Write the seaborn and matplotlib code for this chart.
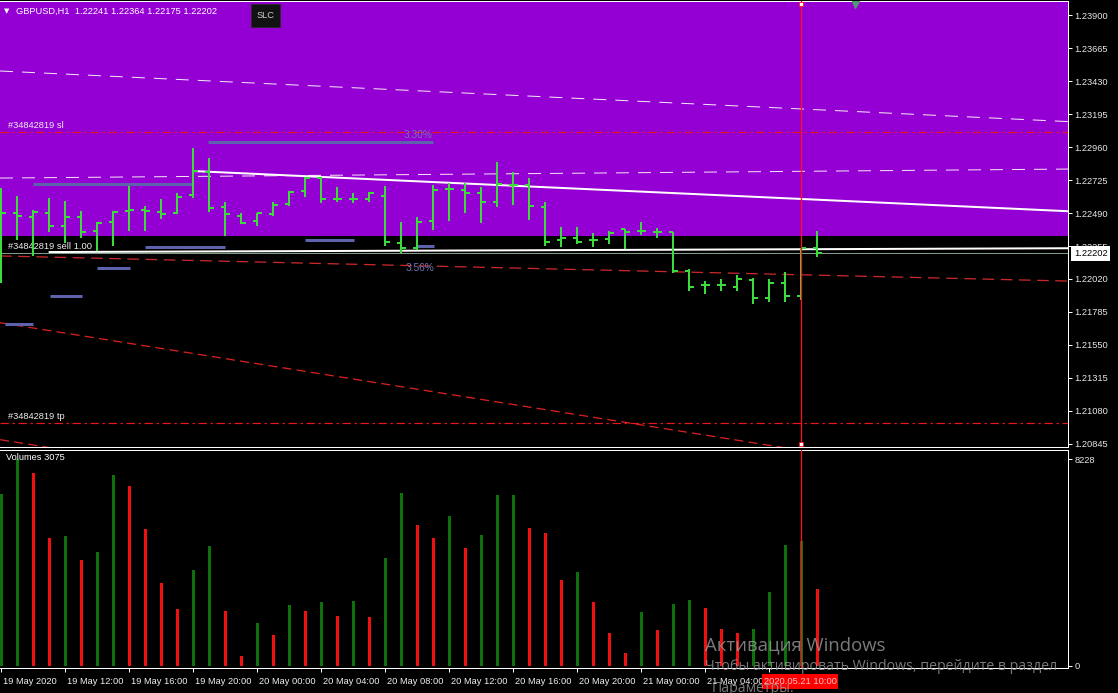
import numpy as np
import pandas as pd
import matplotlib
matplotlib.use('Agg')
import matplotlib.pyplot as plt
import seaborn as sns
from matplotlib.patches import Rectangle

# ==========================================
# Data (bar 0 = 19 May 08:00)
# ==========================================
bar_open = [1.22490, 1.22490, 1.22462, 1.22490, 1.22398, 1.22462, 1.22362, 1.22426, 1.22504, 1.22511,
            1.22497, 1.22490, 1.22618, 1.22782, 1.22533, 1.22469, 1.22433, 1.22483, 1.22554, 1.22647,
            1.22739, 1.22590, 1.22590, 1.22590, 1.22611, 1.22276, 1.22241, 1.22433, 1.22661, 1.22654,
            1.22632, 1.22568, 1.22689, 1.22689, 1.22533, 1.22298, 1.22312, 1.22298, 1.22305, 1.22376,
            1.22362, 1.22355, 1.22355, 1.22077, 1.21977, 1.21977, 1.21963, 1.22013, 1.21885, 1.21992,
            1.21899, 1.22241]
bar_high = [1.22668, 1.22611, 1.22511, 1.22597, 1.22576, 1.22504, 1.22426, 1.22504, 1.22682, 1.22540,
            1.22590, 1.22632, 1.22953, 1.22882, 1.22568, 1.22490, 1.22490, 1.22568, 1.22647, 1.22746,
            1.22746, 1.22675, 1.22632, 1.22640, 1.22682, 1.22426, 1.22462, 1.22689, 1.22704, 1.22704,
            1.22675, 1.22853, 1.22782, 1.22739, 1.22568, 1.22390, 1.22390, 1.22348, 1.22362, 1.22376,
            1.22426, 1.22383, 1.22355, 1.22091, 1.22006, 1.22020, 1.22049, 1.22027, 1.22020, 1.22070,
            1.22241, 1.22364]
bar_low = [1.21992, 1.22298, 1.22184, 1.22355, 1.22276, 1.22312, 1.22219, 1.22255, 1.22362, 1.22362,
           1.22447, 1.22483, 1.22597, 1.22497, 1.22326, 1.22412, 1.22398, 1.22469, 1.22540, 1.22604,
           1.22561, 1.22568, 1.22561, 1.22568, 1.22255, 1.22205, 1.22227, 1.22369, 1.22433, 1.22490,
           1.22419, 1.22533, 1.22547, 1.22440, 1.22255, 1.22248, 1.22269, 1.22248, 1.22269, 1.22234,
           1.22333, 1.22312, 1.22063, 1.21935, 1.21913, 1.21935, 1.21935, 1.21842, 1.21856, 1.21856,
           1.21871, 1.22175]
bar_close = [1.22490, 1.22469, 1.22497, 1.22398, 1.22462, 1.22355, 1.22419, 1.22497, 1.22511, 1.22504,
             1.22483, 1.22604, 1.22789, 1.22526, 1.22483, 1.22419, 1.22490, 1.22547, 1.22640, 1.22739,
             1.22590, 1.22590, 1.22590, 1.22632, 1.22284, 1.22241, 1.22426, 1.22654, 1.22661, 1.22632,
             1.22568, 1.22697, 1.22689, 1.22540, 1.22284, 1.22312, 1.22284, 1.22298, 1.22348, 1.22355,
             1.22362, 1.22355, 1.22077, 1.21963, 1.21977, 1.21977, 1.22020, 1.21885, 1.21992, 1.21899,
             1.22241, 1.22202]

volumes = [6856, 8228, 7679, 5093, 5185, 4205, 4545, 7601, 7183, 5459,
           3291, 2272, 3840, 4793, 2194, 392, 1724, 1254, 2442, 2194,
           2547, 1998, 2599, 1959, 4310, 6896, 5616, 5107, 5995, 4715,
           5211, 6817, 6830, 5485, 5289, 3409, 3761, 2547, 1332, 509,
           2155, 1450, 2468, 2625, 2312, 1489, 1332, 1489, 2939, 4819,
           4976, 3075]
vol_dir = ['up', 'up', 'down', 'down', 'up', 'down', 'up', 'up', 'down', 'down',
           'down', 'down', 'up', 'up', 'down', 'down', 'up', 'down', 'up', 'down',
           'up', 'down', 'up', 'down', 'up', 'up', 'down', 'down', 'up', 'down',
           'up', 'up', 'up', 'down', 'down', 'down', 'up', 'down', 'down', 'down',
           'up', 'down', 'up', 'up', 'down', 'down', 'down', 'up', 'up', 'up',
           'up', 'down']

time_label_bars = [0, 4, 8, 12, 16, 20, 24, 28, 32, 36, 40, 44, 48]
time_labels = ['19 May 2020', '19 May 12:00', '19 May 16:00', '19 May 20:00', '20 May 00:00',
               '20 May 04:00', '20 May 08:00', '20 May 12:00', '20 May 16:00', '20 May 20:00',
               '21 May 00:00', '21 May 04:00', '21 May 08:00']
price_ticks = [1.23900, 1.23665, 1.23430, 1.23195, 1.22960, 1.22725, 1.22490,
               1.22255, 1.22020, 1.21785, 1.21550, 1.21315, 1.21080, 1.20845]
vol_ticks = [8228, 0]

# objects on the chart
purple_zone = (1.22326, 1.24200)
sl_price = 1.23067
tp_price = 1.20995
order_no = '#34842819'
# trend lines: two anchor points (bar, price)
white_dash_1 = [(0, 1.23501), (50, 1.23231)]
white_dash_2 = [(0, 1.22739), (50, 1.22787)]
white_trend = [(12, 1.22789), (50, 1.22590)]
sell_line = [(3, 1.22212), (50, 1.22232)]
red_chan_1 = [(0, 1.22184), (50, 1.22050)]
red_chan_2 = [(0, 1.21707), (50, 1.20799)]
red_chan_3 = [(0, 1.20874), (50, 1.19966)]
# short blue levels
seg_start = [0.22, 3.04, 5.98, 8.97, 18.98, 25.97, 1.98, 12.91]
seg_end = [1.98, 5.04, 8.04, 13.98, 22.03, 27.04, 11.97, 26.97]
seg_price = [1.21700, 1.21900, 1.22099, 1.22248, 1.22298, 1.22255, 1.22697, 1.22996]
pct_labels = [(26.97, 1.23045, '3.30%'), (27.04, 1.22098, '3.56%')]
crosshair_bar = 50
crosshair_time = '2020.05.21 10:00'
arrow_mark = (53.35, 1.23985)

# ==========================================
# Figure setup
# ==========================================
sns.set_theme(style='dark', rc={'axes.facecolor': 'black', 'figure.facecolor': 'black',
                                'axes.grid': False, 'text.color': 'white'})
plt.rcParams['font.family'] = ['Liberation Sans', 'DejaVu Sans']

W, H = 1118, 693
FS = 6.7
PX = 0.72  # one pixel in points at dpi 100


def fx(x):
    return x / W


def fy(y):
    return 1 - y / H


fig = plt.figure(figsize=(W / 100, H / 100), dpi=100, facecolor='black')
axm = fig.add_axes([0, fy(446.5), fx(1068), fy(1) - fy(446.5)])
axv = fig.add_axes([0, fy(668), fx(1068), fy(449.5) - fy(668)])

bars = np.arange(len(bar_open))
xlim = (-0.0875, 66.6625)

# ---- price window ----
axm.axhspan(*purple_zone, color='#9400d3', lw=0, zorder=0)


def line_through(ax, pts, x0, x1, **kw):
    (xa, ya), (xb, yb) = pts
    slope = (yb - ya) / (xb - xa)
    xs = np.array([x0, x1])
    ax.plot(xs, ya + (xs - xa) * slope, **kw)


line_through(axm, white_dash_1, xlim[0], xlim[1], color='#f4eaf4', lw=PX, ls=(0, (13, 9)), zorder=2)
line_through(axm, white_dash_2, xlim[0], xlim[1], color='#f4e4f4', lw=PX, ls=(0, (13, 9)), zorder=2)
line_through(axm, white_trend, white_trend[0][0], xlim[1], color='white', lw=2 * PX, zorder=2)
line_through(axm, sell_line, sell_line[0][0], xlim[1], color='white', lw=2 * PX, zorder=2)
line_through(axm, red_chan_1, xlim[0], xlim[1], color='#c8282a', lw=1.3 * PX, ls=(0, (9, 5)), zorder=2)
line_through(axm, red_chan_2, xlim[0], xlim[1], color='#d82020', lw=1.3 * PX, ls=(0, (7, 4)), zorder=2)
line_through(axm, red_chan_3, xlim[0], xlim[1], color='#d82020', lw=1.3 * PX, ls=(0, (7, 4)), zorder=2)

axm.axhline(sl_price, color='#e81818', lw=1.2 * PX, ls=(0, (7, 3, 2, 3)), zorder=2)
axm.axhline(tp_price, color='#e81818', lw=1.2 * PX, ls=(0, (7, 3, 2, 3)), zorder=2)
axm.axhline(bar_close[-1], color='#7f9c86', lw=PX, zorder=2)

axm.hlines(seg_price, seg_start, seg_end, color='#5c62ac', lw=3 * PX, zorder=3)
for xb, yp, txt in pct_labels:
    axm.text(xb, yp, txt, color='#7276b4', fontsize=FS + 0.6, ha='right', va='center', zorder=3)

# OHLC bars
bar_col = '#3ddc3d'
axm.vlines(bars, bar_low, bar_high, color=bar_col, lw=2 * PX, zorder=4)
axm.hlines(bar_open, bars - 0.3, bars, color=bar_col, lw=2 * PX, zorder=4)
axm.hlines(bar_close, bars, bars + 0.3, color=bar_col, lw=2 * PX, zorder=4)

# labels of the order lines
lab_x = 0.41
axm.annotate(order_no + ' sl', (lab_x, sl_price), xytext=(0, 2), textcoords='offset pixels',
             color='#eeeeee', fontsize=FS, va='bottom')
axm.annotate(order_no + ' tp', (lab_x, tp_price), xytext=(0, 2), textcoords='offset pixels',
             color='#eeeeee', fontsize=FS, va='bottom')
axm.annotate(order_no + ' sell 1.00', (lab_x, sell_line[0][1]), xytext=(0, 1), textcoords='offset pixels',
             color='#eeeeee', fontsize=FS, va='bottom')

# crosshair and arrow
axm.axvline(crosshair_bar, color='#ff1020', lw=1.3 * PX, zorder=6)
axm.plot([crosshair_bar, crosshair_bar], [0.9933, 0.0056], transform=axm.get_xaxis_transform(),
         ls='none', marker='s', ms=4 * PX, mfc='white', mec='#ff1020', mew=0.6, zorder=7)
axm.plot(*arrow_mark, marker='v', ms=9 * PX, color='#4f9a72', ls='none', zorder=5)

axm.set_xlim(*xlim)
axm.set_ylim(1.20827, 1.24000)
axm.yaxis.tick_right()
axm.set_yticks(price_ticks)
axm.set_yticklabels([f'{t:.5f}' for t in price_ticks])
axm.tick_params(axis='y', right=True, left=False, length=3, width=PX, color='white',
                labelcolor='#e6e6e6', labelsize=FS, pad=1.5)
axm.tick_params(axis='x', bottom=False, labelbottom=False)

axm.annotate(f'{bar_close[-1]:.5f}', (1, bar_close[-1]), xycoords=('axes fraction', 'data'),
             xytext=(6, 0), textcoords='offset pixels', color='black', fontsize=FS, va='center',
             bbox=dict(boxstyle='square,pad=0.3', fc='white', ec='none'), annotation_clip=False, zorder=8)

# ---- volume window ----
vol_df = pd.DataFrame({'bar': bars, 'volume': volumes, 'dir': vol_dir})
sns.barplot(data=vol_df, x='bar', y='volume', hue='dir', palette={'up': '#0c720c', 'down': '#f01010'},
            native_scale=True, dodge=False, width=0.2, saturation=1, errorbar=None,
            legend=False, ax=axv, zorder=3, edgecolor='none', linewidth=0)
axv.axvline(crosshair_bar, color='#ff1020', lw=1.3 * PX, zorder=6)
axv.set_xlim(*xlim)
axv.set_ylim(-80, 8626)
axv.set_xlabel('')
axv.set_ylabel('')
axv.yaxis.tick_right()
axv.set_yticks(vol_ticks)
axv.set_yticklabels([str(v) for v in vol_ticks])
axv.tick_params(axis='y', right=True, left=False, length=3, width=PX, color='white',
                labelcolor='#e6e6e6', labelsize=FS, pad=1.5)
axv.set_xticks(time_label_bars)
axv.tick_params(axis='x', bottom=True, length=3, width=PX, color='white', labelbottom=False)
for b, lab in zip(time_label_bars, time_labels):
    axv.annotate(lab, (b, 0), xycoords=('data', 'axes fraction'), xytext=(2, -13),
                 textcoords='offset pixels', color='#f0f0f0', fontsize=FS, va='center',
                 annotation_clip=False)

for ax in (axm, axv):
    for side in ('top', 'right', 'bottom'):
        ax.spines[side].set_color('white')
        ax.spines[side].set_linewidth(PX)
    ax.spines['left'].set_visible(False)

# ---- overlay texts ----
fig.text(fx(4), fy(11), '\u25bc', fontsize=5, color='white', va='center', family='DejaVu Sans')
fig.text(fx(16), fy(11), f'GBPUSD,H1  {bar_open[-1]:.5f} {bar_high[-1]:.5f} {bar_low[-1]:.5f} '
         f'{bar_close[-1]:.5f}', fontsize=FS, color='white', va='center')
fig.add_artist(Rectangle((fx(251), fy(27)), fx(29), 23 / H, transform=fig.transFigure,
                         fc='#121212', ec='#2a2a2a', lw=0.6, zorder=5))
fig.text(fx(265.5), fy(15.5), 'SLC', fontsize=FS, color='#cfcfcf', ha='center', va='center', zorder=6)
fig.text(fx(6), fy(457), f'Volumes {volumes[-1]}', fontsize=FS, color='white', va='center')

fig.add_artist(Rectangle((fx(762), fy(689)), fx(76), 15 / H, transform=fig.transFigure,
                         fc='#ff0000', ec='none', zorder=5))
fig.text(fx(800), fy(681.5), crosshair_time, fontsize=FS, color='#ffc4c4', ha='center', va='center', zorder=6)

wm = ['Open Sans', 'DejaVu Sans']
fig.text(fx(705), fy(645), 'Активация Windows', fontsize=13.3, color='#9a9a9a', alpha=0.8,
         va='center', family=wm, zorder=9)
fig.text(fx(705), fy(667), 'Чтобы активировать Windows, перейдите в раздел', fontsize=10.2,
         color='#9a9a9a', alpha=0.8, va='center', family=wm, zorder=9)
fig.text(fx(712), fy(688), 'Параметры.', fontsize=10.2, color='#9a9a9a', alpha=0.8,
         va='center', family=wm, zorder=9)

fig.savefig('out.png', dpi=100, facecolor='black')
